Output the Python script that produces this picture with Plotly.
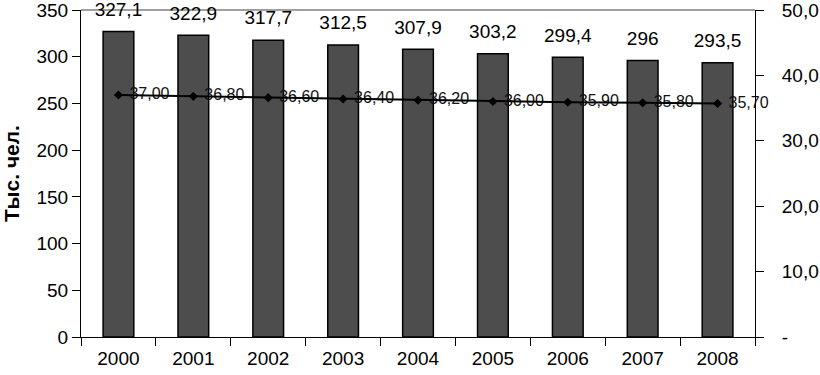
import plotly.graph_objects as go

years = ["2000", "2001", "2002", "2003", "2004", "2005", "2006", "2007", "2008"]
population = [327.1, 322.9, 317.7, 312.5, 307.9, 303.2, 299.4, 296, 293.5]
share = [37.00, 36.80, 36.60, 36.40, 36.20, 36.00, 35.90, 35.80, 35.70]
left_ticks = [0, 50, 100, 150, 200, 250, 300, 350]
right_ticks = [0, 10, 20, 30, 40, 50]
right_ticktext = ["-", "10,0", "20,0", "30,0", "40,0", "50,0"]

FONT = "Liberation Sans, Arial, sans-serif"

fig = go.Figure()
fig.add_trace(go.Bar(
    x=years, y=population,
    marker=dict(color="#4d4d4d", line=dict(color="#000000", width=1.5)),
    yaxis="y",
    showlegend=False,
))
# value labels above the bars
fig.add_trace(go.Scatter(
    x=years, y=population,
    mode="markers+text",
    marker=dict(size=16, color="rgba(0,0,0,0)"),
    text=[str(v).replace(".", ",") for v in population],
    textposition="top center",
    textfont=dict(size=19, color="#000000", family=FONT),
    cliponaxis=False,
    yaxis="y",
    showlegend=False,
    hoverinfo="skip",
))
# data labels of the line (drawn first so the line passes over them)
fig.add_trace(go.Scatter(
    x=years, y=share,
    mode="markers+text",
    marker=dict(size=16, color="rgba(0,0,0,0)"),
    text=[f"{v:.2f}".replace(".", ",") for v in share],
    textposition="middle right",
    textfont=dict(size=16, color="#111111", family=FONT),
    cliponaxis=False,
    yaxis="y2",
    showlegend=False,
    hoverinfo="skip",
))
fig.add_trace(go.Scatter(
    x=years, y=share,
    mode="lines+markers",
    line=dict(color="#000000", width=2),
    marker=dict(symbol="diamond", size=7, color="#000000"),
    cliponaxis=False,
    yaxis="y2",
    showlegend=False,
))

fig.update_layout(
    width=820, height=375,
    margin=dict(l=81, r=65, t=10, b=38, autoexpand=False),
    paper_bgcolor="white", plot_bgcolor="white",
    bargap=0.59,
    font=dict(family=FONT, color="#000000", size=19),
    xaxis=dict(
        type="category", automargin=False,
        range=[-0.5, len(years) - 0.5],
        showline=True, linecolor="#000000", linewidth=1,
        ticks="outside", tickson="boundaries", ticklen=8, tickcolor="#000000",
        tickfont=dict(size=19), ticklabelstandoff=4,
        showgrid=False, zeroline=False,
    ),
    yaxis=dict(
        range=[0, 350], tickvals=left_ticks, automargin=False,
        showline=True, linecolor="#000000", linewidth=1,
        ticks="outside", ticklen=8, tickcolor="#000000",
        tickfont=dict(size=19), ticklabeloverflow="allow",
        showgrid=False, zeroline=False,
        title=dict(text="<b>Тыс. чел.</b>", font=dict(size=21), standoff=12),
    ),
    yaxis2=dict(
        range=[0, 50], overlaying="y", side="right", automargin=False,
        tickvals=right_ticks, ticktext=right_ticktext,
        showline=True, linecolor="#000000", linewidth=1,
        ticks="outside", ticklen=8, tickcolor="#000000",
        tickfont=dict(size=19), ticklabeloverflow="allow",
        ticklabelstandoff=14,
        showgrid=False, zeroline=False,
    ),
)
fig.add_shape(type="line", xref="paper", yref="paper", x0=0, x1=1, y0=1, y1=1,
              line=dict(color="#808080", width=1.5), layer="below")

fig.write_html("out.html", config={"displayModeBar": False},
               post_script="document.body.style.margin='0';")
